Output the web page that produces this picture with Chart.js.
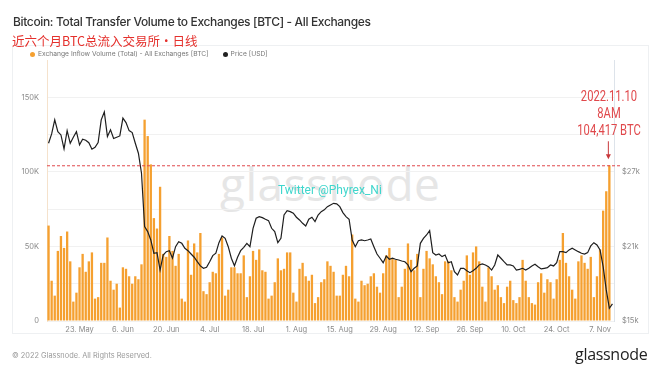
<!DOCTYPE html>
<html>
<head>
<meta charset="utf-8">
<script src="https://cdn.jsdelivr.net/npm/chart.js@4.4.0/dist/chart.umd.min.js"></script>
<style>
  html, body { margin: 0; padding: 0; background: #fff; }
  body { width: 660px; height: 372px; position: relative; overflow: hidden; font-family: Inter, "Open Sans", sans-serif; }
  .panel { position: absolute; left: 12px; top: 45px; width: 637px; height: 289px; border: 1px solid #eef0f2; box-sizing: border-box; }
  .watermark { position: absolute; left: 220px; top: 152px; font-family: "Open Sans", sans-serif; font-size: 46px; font-weight: 500; color: #e6e6e6; letter-spacing: 0.5px; }
  #chart { position: absolute; left: 0; top: 0; }
  .title { position: absolute; left: 13px; top: 14px; font-size: 12px; font-weight: 500; color: #333; white-space: nowrap; letter-spacing: -0.35px; }
  .subtitle { position: absolute; left: 12px; top: 31px; font-family: "Noto Sans CJK SC", sans-serif; font-size: 12.5px; color: #e5302c; white-space: nowrap; }
  .legend { position: absolute; left: 30px; top: 50px; font-size: 6.7px; color: #777; white-space: nowrap; }
  .legend span { display: inline-block; vertical-align: middle; }
  .legend .dot { width: 5px; height: 5px; border-radius: 50%; margin-right: 3px; }
  .legend .gap { width: 14px; }
  .twitter { position: absolute; left: 278px; top: 183px; font-family: Roboto, sans-serif; font-size: 12px; color: #3fd6cc; white-space: nowrap; }
  .note { position: absolute; left: 566px; top: 88px; width: 86px; text-align: center; font-family: Roboto, sans-serif; font-size: 14px; line-height: 17px; color: #e0484b; transform: scaleX(0.8); transform-origin: center; }
  .footer { position: absolute; left: 12px; top: 351px; font-size: 7.4px; color: #9a9a9a; white-space: nowrap; }
  .logo { position: absolute; left: 575px; top: 343px; font-family: "Open Sans", sans-serif; font-size: 16px; font-weight: 500; color: #222; letter-spacing: -0.3px; }
</style>
</head>
<body>
<div class="panel"></div>
<div class="watermark">glassnode</div>
<canvas id="chart" width="660" height="372"></canvas>
<div class="title">Bitcoin: Total Transfer Volume to Exchanges [BTC] - All Exchanges</div>
<div class="subtitle">近六个月BTC总流入交易所·日线</div>
<div class="legend">
  <span class="dot" style="background:#f5a030"></span><span>Exchange Inflow Volume (Total) - All Exchanges [BTC]</span><span class="gap"></span><span class="dot" style="background:#222"></span><span>Price [USD]</span>
</div>
<div class="twitter">Twitter @Phyrex_Ni</div>
<div class="note">2022.11.10<br>8AM<br>104,417 BTC</div>
<div class="footer">© 2022 Glassnode. All Rights Reserved.</div>
<div class="logo">glassnode</div>

<script>
let START_DATE = Date.UTC(2022, 4, 13);
let DAY_COUNT = 183;
let MONTHS = ['Jan', 'Feb', 'Mar', 'Apr', 'May', 'Jun', 'Jul', 'Aug', 'Sep', 'Oct', 'Nov', 'Dec'];

// exchange inflow, thousand BTC per day (last day not closed yet)
let INFLOW = [
    64, 27, 17, 47, 57, 49, 60, 40, 13, 19,
    36, 45, 33, 40, 46, 15, 16, 39, 39, 56,
    27, 21, 25, 9, 36, 35, 30, 25, 30, 28,
    38, 135, 124, 105, 69, 62, 90, 45, 43, 57,
    47, 37, 45, 15, 13, 54, 31, 52, 46, 59,
    20, 18, 26, 33, 32, 45, 56, 17, 21, 36,
    36, 32, 32, 44, 16, 30, 47, 41, 48, 34,
    33, 15, 17, 26, 42, 34, 35, 46, 46, 19,
    13, 35, 39, 30, 27, 31, 12, 16, 26, 28,
    40, 37, 33, 17, 17, 31, 37, 30, 58, 15,
    13, 27, 24, 25, 30, 32, 23, 19, 32, 44,
    49, 42, 41, 16, 23, 35, 52, 41, 34, 45,
    16, 35, 47, 42, 38, 30, 26, 18, 40, 40,
    34, 16, 13, 21, 27, 44, 31, 46, 50, 40,
    23, 13, 36, 30, 21, 24, 16, 12, 23, 27,
    14, 12, 16, 41, 27, 16, 12, 11, 26, 32,
    19, 28, 26, 15, 28, 41, 59, 39, 30, 21,
    15, 40, 44, 39, 35, 43, 16, 30, 48, 74,
    87, 104.417, null
];

let PRICE = [
    29300, 30050, 31180, 30240, 29970, 28850, 30320, 29300, 29790, 30240,
    29170, 29620, 29540, 29350, 28820, 28980, 29350, 31180, 31820, 29840,
    30380, 29680, 29790, 29890, 31320, 30960, 30320, 30160, 29300, 28500,
    26890, 22590, 22190, 21520, 20450, 20500, 19100, 20310, 20580, 20660,
    20050, 20980, 21380, 21250, 20850, 20660, 20390, 20130, 19770, 19430,
    19240, 19320, 19770, 20260, 20450, 21300, 21840, 21650, 20980, 20050,
    19440, 20130, 20660, 20930, 21250, 20980, 22460, 23270, 23400, 23320,
    23190, 23080, 22460, 22190, 21300, 21650, 23530, 23880, 23800, 23670,
    23350, 23130, 22860, 22650, 23190, 23350, 23000, 23530, 23800, 23940,
    24200, 24340, 24470, 24420, 24200, 23720, 23400, 23190, 21520, 20980,
    21460, 21520, 21460, 21520, 21600, 20980, 20390, 20050, 19690, 20230,
    19970, 20050, 19970, 19910, 19830, 19770, 19510, 18970, 19240, 19430,
    21250, 21650, 21920, 22270, 20500, 20310, 20390, 20180, 20310, 19690,
    19770, 18970, 18700, 19240, 19240, 19050, 18890, 19050, 19240, 19510,
    19590, 19510, 19370, 19100, 19510, 20310, 20050, 19770, 19510, 19510,
    19430, 19100, 19160, 19240, 19100, 19240, 19430, 19560, 19370, 19190,
    19240, 19290, 19510, 19430, 19690, 20580, 20580, 20500, 20720, 20850,
    20720, 20580, 20450, 20390, 20500, 21040, 21300, 21120, 20720, 19370,
    17500, 16020, 16370
];

let PEAK_INDEX = 181;
let PEAK_VALUE = 104.417;

let INFLOW_TICKS = [0, 50, 100, 150];
let PRICE_TICKS = [15000, 21000, 27000];

let labels = [];
for (let i = 0; i < DAY_COUNT; i++) {
    let d = new Date(START_DATE + i * 86400000);
    labels.push(d.getUTCDate() + '. ' + MONTHS[d.getUTCMonth()]);
}

let tick_font = { family: 'Inter', size: 7.5 };

let peak_marker = {
    id: 'peakMarker',
    afterDatasetsDraw: function(chart) {
        let ctx = chart.ctx;
        let area = chart.chartArea;
        let y = chart.scales.y.getPixelForValue(PEAK_VALUE);
        let x = chart.scales.x.getPixelForValue(PEAK_INDEX);
        ctx.save();
        ctx.strokeStyle = '#e0484b';
        ctx.lineWidth = 1;
        ctx.setLineDash([3, 2]);
        ctx.beginPath();
        ctx.moveTo(area.left, y + 0.5);
        ctx.lineTo(area.right + 6, y + 0.5);
        ctx.stroke();

        ctx.setLineDash([]);
        ctx.strokeStyle = '#c8383b';
        ctx.fillStyle = '#c8383b';
        ctx.beginPath();
        ctx.moveTo(x - 1, y - 24);
        ctx.lineTo(x - 1, y - 10);
        ctx.stroke();
        ctx.beginPath();
        ctx.moveTo(x - 3.5, y - 11);
        ctx.lineTo(x + 1.5, y - 11);
        ctx.lineTo(x - 1, y - 6);
        ctx.closePath();
        ctx.fill();
        ctx.restore();
    }
};

let chart = new Chart(document.getElementById('chart'), {
    data: {
        labels: labels,
        datasets: [{
            type: 'line',
            label: 'Price [USD]',
            data: PRICE,
            yAxisID: 'y1',
            borderColor: '#1e1e1e',
            borderWidth: 1.2,
            pointRadius: 0,
            tension: 0,
            order: 0
        }, {
            type: 'bar',
            label: 'Exchange Inflow Volume (Total) - All Exchanges [BTC]',
            data: INFLOW,
            yAxisID: 'y',
            backgroundColor: '#f5a030',
            barPercentage: 0.75,
            categoryPercentage: 1,
            order: 1
        }]
    },
    options: {
        responsive: false,
        animation: false,
        devicePixelRatio: 1,
        layout: { padding: { top: 60, left: 0, right: 0, bottom: 0 } },
        plugins: {
            legend: { display: false },
            tooltip: { enabled: false }
        },
        scales: {
            x: {
                offset: true,
                grid: { display: false, drawTicks: false },
                border: { display: false },
                ticks: {
                    autoSkip: false,
                    maxRotation: 0,
                    padding: 4,
                    color: '#8a8a8a',
                    font: tick_font,
                    callback: function(value, index) {
                        return index % 14 === 10 ? labels[index] : null;
                    }
                },
                afterFit: function(scale) { scale.height = 51; }
            },
            y: {
                position: 'left',
                min: 0,
                max: 175,
                grid: {
                    drawTicks: false,
                    color: function(ctx) {
                        return ctx.tick && ctx.tick.value >= 175 ? 'rgba(0,0,0,0)' : '#f1f1f1';
                    }
                },
                border: { color: '#f5e2cc' },
                ticks: {
                    stepSize: 25,
                    padding: 8,
                    color: '#8a8a8a',
                    font: tick_font,
                    callback: function(value) {
                        if (INFLOW_TICKS.indexOf(value) < 0) return '';
                        return value === 0 ? '0' : value + 'K';
                    }
                },
                afterFit: function(scale) { scale.width = 47; }
            },
            y1: {
                position: 'right',
                min: 15000,
                max: 36000,
                grid: { display: false, drawTicks: false },
                border: { color: '#dde3ea' },
                afterBuildTicks: function(scale) {
                    scale.ticks = PRICE_TICKS.map(function(v) { return { value: v }; });
                },
                ticks: {
                    padding: 8,
                    color: '#8a8a8a',
                    font: tick_font,
                    callback: function(value) {
                        return '$' + value / 1000 + 'k';
                    }
                },
                afterFit: function(scale) { scale.width = 46; }
            }
        }
    },
    plugins: [peak_marker]
});
</script>
</body>
</html>
